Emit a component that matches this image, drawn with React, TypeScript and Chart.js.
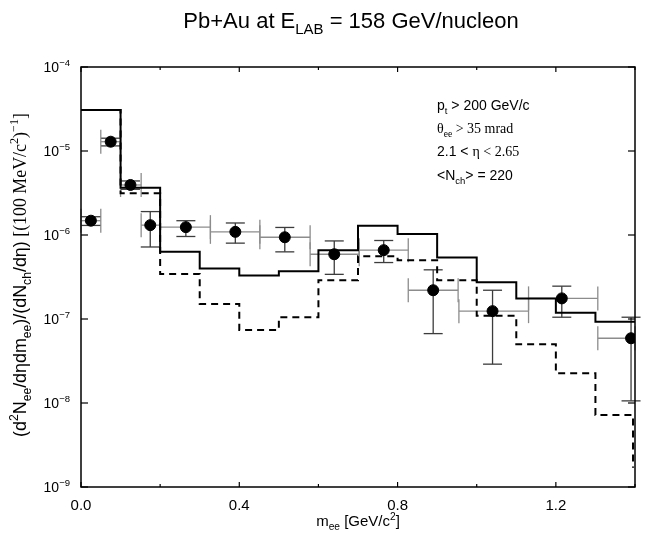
import React, { useEffect, useRef } from "react";
import { Chart, registerables } from "chart.js";

Chart.register(...registerables);

// ---------- data ----------
const binEdges = [0, 0.1, 0.2, 0.3, 0.4, 0.5, 0.6, 0.7, 0.8, 0.9, 1.0, 1.1, 1.2, 1.3];
const binEnd = 1.4;
const dashedEnd = 1.395;
const solidModel = [3.07e-5, 3.66e-6, 6.3e-7, 4.0e-7, 3.3e-7, 3.7e-7, 6.6e-7, 1.29e-6, 1.03e-6, 5.4e-7, 2.73e-7, 1.76e-7, 1.19e-7, 9.3e-8];
const dashedModel = [3.07e-5, 3.13e-6, 3.44e-7, 1.51e-7, 7.4e-8, 1.05e-7, 2.9e-7, 5.6e-7, 5.0e-7, 2.9e-7, 1.09e-7, 5.0e-8, 2.26e-8, 7.2e-9];
const dashedTail = 1.7e-9;

const massPoints = [0.025, 0.075, 0.125, 0.175, 0.265, 0.39, 0.515, 0.64, 0.765, 0.89, 1.04, 1.215, 1.39];
const yieldPoints = [1.48e-6, 1.29e-5, 3.94e-6, 1.31e-6, 1.24e-6, 1.09e-6, 9.4e-7, 5.9e-7, 6.6e-7, 2.2e-7, 1.24e-7, 1.76e-7, 5.9e-8];
const yieldLow = [1.3e-6, 1.15e-5, 3.5e-6, 7.2e-7, 9.6e-7, 8.0e-7, 6.3e-7, 3.4e-7, 4.7e-7, 6.7e-8, 2.9e-8, 1.05e-7, 1.06e-8];
const yieldHigh = [1.65e-6, 1.42e-5, 4.4e-6, 1.9e-6, 1.48e-6, 1.39e-6, 1.23e-6, 8.5e-7, 8.6e-7, 3.85e-7, 2.2e-7, 2.46e-7, 1.05e-7];
const massLow = [0.0, 0.05, 0.1, 0.152, 0.2, 0.327, 0.452, 0.579, 0.703, 0.827, 0.955, 1.131, 1.306];
const massHigh = [0.05, 0.1, 0.152, 0.2, 0.327, 0.452, 0.579, 0.703, 0.827, 0.953, 1.131, 1.306, 1.4];

const xTickValues = [0, 0.2, 0.4, 0.6, 0.8, 1.0, 1.2, 1.4];
const xTickLabels = ["0.0", "", "0.4", "", "0.8", "", "1.2", ""];
const yTickExponents = [-4, -5, -6, -7, -8, -9];

// ---------- text helpers ----------
const SANS = '"Liberation Sans", Arial, Helvetica, sans-serif';
const SERIF = '"Liberation Serif", "Times New Roman", serif';

type Seg = { t: string; f?: "s" | "r"; p?: "n" | "b" | "p" };

const titleSegs: Seg[] = [{ t: "Pb+Au at E" }, { t: "LAB", p: "b" }, { t: " = 158 GeV/nucleon" }];
const xTitleSegs: Seg[] = [{ t: "m" }, { t: "ee", p: "b" }, { t: " [GeV/c" }, { t: "2", p: "p" }, { t: "]" }];
const yTitleSegs: Seg[] = [
  { t: "(d" }, { t: "2", p: "p" }, { t: "N" }, { t: "ee", p: "b" }, { t: "/dηdm" }, { t: "ee", p: "b" },
  { t: ")/(dN" }, { t: "ch", p: "b" }, { t: "/dη)" },
  { t: " [(100 MeV/c", f: "r" }, { t: "2", f: "r", p: "p" }, { t: ")", f: "r" }, { t: "−1", f: "r", p: "p" }, { t: "]", f: "r" },
];
const noteLines: Seg[][] = [
  [{ t: "p" }, { t: "t", p: "b" }, { t: " > 200 GeV/c" }],
  [{ t: "θ", f: "r" }, { t: "ee", f: "r", p: "b" }, { t: " > 35 mrad", f: "r" }],
  [{ t: "2.1 < " }, { t: "η < 2.65", f: "r" }],
  [{ t: "<N" }, { t: "ch", p: "b" }, { t: "> = 220" }],
];

function segFont(seg: Seg, size: number) {
  const s = seg.p === "b" || seg.p === "p" ? size * 0.68 : size;
  return `${s}px ${seg.f === "r" ? SERIF : SANS}`;
}
function richWidth(ctx: CanvasRenderingContext2D, segs: Seg[], size: number) {
  let w = 0;
  for (const sg of segs) {
    ctx.font = segFont(sg, size);
    w += ctx.measureText(sg.t).width;
  }
  return w;
}
function drawRich(ctx: CanvasRenderingContext2D, segs: Seg[], x: number, baseline: number, size: number, align: "left" | "center" | "right") {
  const w = richWidth(ctx, segs, size);
  let cx = align === "center" ? x - w / 2 : align === "right" ? x - w : x;
  ctx.textAlign = "left";
  ctx.textBaseline = "alphabetic";
  for (const sg of segs) {
    ctx.font = segFont(sg, size);
    const dy = sg.p === "b" ? size * 0.28 : sg.p === "p" ? -size * 0.42 : 0;
    ctx.fillText(sg.t, cx, baseline + dy);
    cx += ctx.measureText(sg.t).width;
  }
  return w;
}

function seg(ctx: CanvasRenderingContext2D, x1: number, y1: number, x2: number, y2: number) {
  ctx.beginPath();
  ctx.moveTo(x1, y1);
  ctx.lineTo(x2, y2);
  ctx.stroke();
}

const framePlugin = {
  id: "framePlugin",
  beforeDatasetsDraw(chart: any) {
    const { ctx, scales } = chart;
    const x = scales.x, y = scales.y;
    ctx.save();
    ctx.lineWidth = 1.3;
    const capH = 12, capW = 9.5;
    for (let i = 0; i < massPoints.length; i++) {
      const px = x.getPixelForValue(massPoints[i]);
      const py = y.getPixelForValue(yieldPoints[i]);
      const xl = x.getPixelForValue(massLow[i]);
      const xh = x.getPixelForValue(massHigh[i]);
      const yl = y.getPixelForValue(yieldLow[i]);
      const yh = y.getPixelForValue(yieldHigh[i]);
      ctx.strokeStyle = "#8c8c8c";
      seg(ctx, xl, py, xh, py);
      seg(ctx, xl, py - capH, xl, py + capH);
      seg(ctx, xh, py - capH, xh, py + capH);
      ctx.strokeStyle = "#3c3c3c";
      seg(ctx, px, yl, px, yh);
      seg(ctx, px - capW, yl, px + capW, yl);
      seg(ctx, px - capW, yh, px + capW, yh);
    }
    ctx.restore();
  },
  afterDraw(chart: any) {
    const { ctx, chartArea, scales } = chart;
    const x = scales.x, y = scales.y;
    const { left, right, top, bottom } = chartArea;
    ctx.save();
    ctx.strokeStyle = "#000";
    ctx.fillStyle = "#000";
    ctx.lineWidth = 1.5;
    ctx.strokeRect(left, top, right - left, bottom - top);

    // y ticks
    ctx.lineWidth = 1.2;
    for (const e of yTickExponents) {
      const py = y.getPixelForValue(Math.pow(10, e));
      seg(ctx, left, py, left + 7, py);
      seg(ctx, right, py, right - 7, py);
      drawRich(ctx, [{ t: "10" }, { t: "−" + String(-e), p: "p" }], left - 11, py + 5, 14, "right");
    }
    // x ticks
    xTickValues.forEach((v, i) => {
      const px = x.getPixelForValue(v);
      const len = xTickLabels[i] ? 5 : 3;
      seg(ctx, px, bottom, px, bottom - len);
      seg(ctx, px, top, px, top + len);
      if (xTickLabels[i]) drawRich(ctx, [{ t: xTickLabels[i] }], px, bottom + 23, 15, "center");
    });

    // axis titles
    drawRich(ctx, xTitleSegs, (left + right) / 2, 526, 15, "center");
    ctx.save();
    ctx.translate(21, 275);
    ctx.rotate(-Math.PI / 2);
    const base = richWidth(ctx, yTitleSegs, 14);
    const ySize = 14 * (324 / base);
    drawRich(ctx, yTitleSegs, 0, 5, ySize, "center");
    ctx.restore();

    // title
    drawRich(ctx, titleSegs, 351, 28, 22, "center");

    // notes
    const noteBase = [110, 133, 156, 180];
    noteLines.forEach((ln, i) => drawRich(ctx, ln, 437, noteBase[i], 14, "left"));
    ctx.restore();
  },
};

export default function App() {
  const ref = useRef<HTMLCanvasElement | null>(null);
  useEffect(() => {
    document.body.style.margin = "0";
    const canvas = ref.current;
    if (!canvas) return;
    const solidData = binEdges.map((e, i) => ({ x: e, y: solidModel[i] }));
    solidData.push({ x: binEnd, y: solidModel[solidModel.length - 1] });
    const dashedData = binEdges.map((e, i) => ({ x: e, y: dashedModel[i] }));
    dashedData.push({ x: dashedEnd, y: dashedModel[dashedModel.length - 1] });
    dashedData.push({ x: dashedEnd, y: dashedTail });
    const pointData = massPoints.map((m, i) => ({ x: m, y: yieldPoints[i] }));

    const chart = new Chart(canvas, {
      type: "line",
      data: {
        datasets: [
          {
            data: solidData,
            borderColor: "#000",
            borderWidth: 2,
            pointRadius: 0,
            stepped: "before",
            fill: false,
          },
          {
            data: dashedData,
            borderColor: "#000",
            borderWidth: 2,
            borderDash: [7, 5],
            pointRadius: 0,
            stepped: "before",
            fill: false,
          },
          {
            type: "scatter",
            data: pointData,
            showLine: false,
            pointRadius: 5.5,
            pointBackgroundColor: "#000",
            pointBorderColor: "#000",
            pointBorderWidth: 1,
          } as any,
        ],
      },
      options: {
        responsive: false,
        animation: false,
        layout: { padding: { left: 81, right: 18, top: 67, bottom: 46 } },
        plugins: { legend: { display: false }, tooltip: { enabled: false }, title: { display: false } },
        scales: {
          x: { type: "linear", min: 0, max: 1.4, display: false },
          y: { type: "logarithmic", min: 1e-9, max: 1e-4, display: false },
        },
      },
      plugins: [framePlugin],
    });
    return () => chart.destroy();
  }, []);
  return <canvas ref={ref} width={653} height={533} style={{ display: "block" }} />;
}
